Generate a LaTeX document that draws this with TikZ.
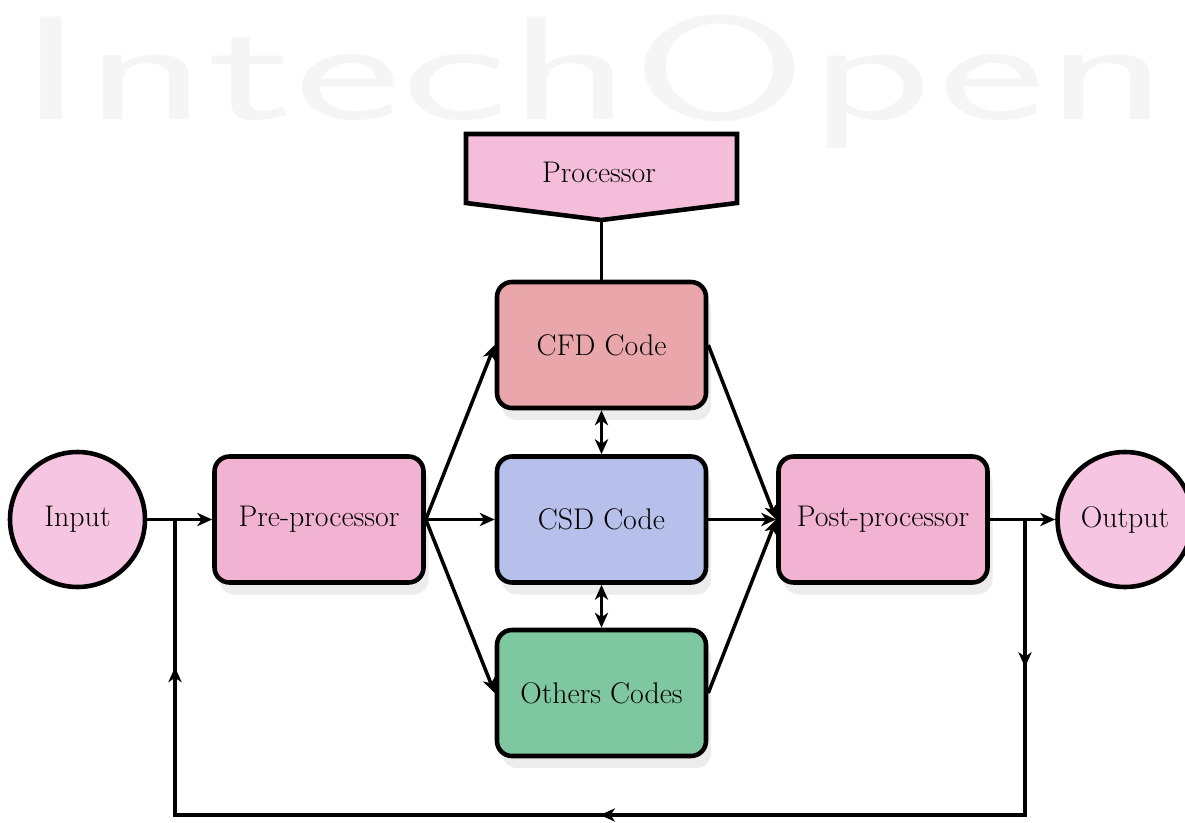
\documentclass[tikz,border=0pt]{standalone}
\usetikzlibrary{arrows.meta,shadows,decorations.markings}
\definecolor{pinkbox}{HTML}{F2B2D2}
\definecolor{procpink}{HTML}{F4BEDB}
\definecolor{cfdred}{HTML}{E9A7AC}
\definecolor{csdblue}{HTML}{B7C0EB}
\definecolor{othgreen}{HTML}{7FC7A1}
\definecolor{circpink}{HTML}{F6C5E1}
\begin{document}
\begin{tikzpicture}[
  >={Stealth[length=8.5pt,width=7.5pt,inset=2.5pt]},
  line width=2pt,
  txt/.style={font=\fontsize{17}{20}\selectfont},
  box/.style={txt, draw, line width=2.6pt, rounded corners=0.3cm,
    minimum width=4.18cm, minimum height=2.52cm,
    drop shadow={shadow xshift=0.1cm, shadow yshift=-0.24cm, opacity=0.15}},
  io/.style={txt, draw, circle, line width=2.6pt, minimum size=2.7cm, fill=circpink},
  loopmarks/.style={postaction={decorate}, decoration={markings,
    mark=at position 0.1025 with {\arrow{>}},
    mark=at position 0.5 with {\arrow{>}},
    mark=at position 0.8975 with {\arrow{>}}}}
]
\useasboundingbox (0,0) rectangle (23.7,-16.46);
% watermark
\node[anchor=base west, inner sep=0, text=gray!8, xscale=1.73, transform shape,
  font=\fontsize{84}{84}\selectfont\sffamily] (wmark) at (0.3,-2.4) {IntechOpen};
% processor
\draw[fill=procpink, line width=2.6pt] (9.32,-2.68) -- (14.74,-2.68) -- (14.74,-4.06)
  -- (12.03,-4.4) coordinate (ptip) -- (9.32,-4.06) -- cycle;
\node[txt] (proc) at (11.98,-3.44) {Processor};
% boxes
\node[box, fill=cfdred] (cfd) at (12.03,-6.9) {CFD Code};
\node[box, fill=csdblue] (csd) at (12.03,-10.39) {CSD Code};
\node[box, fill=othgreen] (oth) at (12.03,-13.86) {Others Codes};
\node[box, fill=pinkbox] (pre) at (6.38,-10.39) {Pre-processor};
\node[box, fill=pinkbox] (post) at (17.66,-10.39) {Post-processor};
\node[io] (in) at (1.55,-10.39) {Input};
\node[io] (out) at (22.5,-10.39) {Output};
% connectors
\draw (ptip) -- (cfd.north);
\draw[->] (in) -- (pre);
\draw[->] (pre.east) -- (cfd.west);
\draw[->] (pre) -- (csd);
\draw[->] (pre.east) -- (oth.west);
\draw[->] (cfd.east) -- (post.west);
\draw[->] (csd) -- (post);
\draw[->] (oth.east) -- (post.west);
\draw[<->] (cfd) -- (csd);
\draw[<->] (csd) -- (oth);
\draw[->] (post) -- (out);
% feedback loop
\coordinate (jl) at (3.5,-10.39);
\coordinate (jr) at (20.5,-10.39);
\coordinate (bl) at (3.5,-16.3);
\coordinate (br) at (20.5,-16.3);
\draw[loopmarks] (jr) -- (br) -- (bl) -- (jl);
\end{tikzpicture}
\end{document}
